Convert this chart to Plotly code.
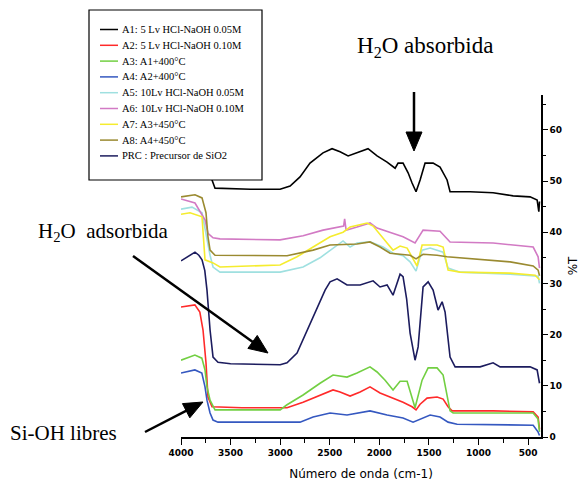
import math
import plotly.graph_objects as go

# ---------------- data ----------------
series_names = [
    "A1: 5 Lv HCl-NaOH 0.05M",
    "A2: 5 Lv HCl-NaOH 0.10M",
    "A3: A1+400°C",
    "A4: A2+400°C",
    "A5: 10Lv HCl-NaOH 0.05M",
    "A6: 10Lv HCl-NaOH 0.10M",
    "A7: A3+450°C",
    "A8: A4+450°C",
    "PRC : Precursor de SiO2",
]
series_colors = ["#000000", "#ff2a2a", "#72cf42", "#3558c0", "#9fe0e0",
                 "#d27ac4", "#f5ec2e", "#9a8a30", "#1c1c5e"]

wn_A1 = [4000, 3850, 3760, 3720, 3687, 3657, 3300, 3001, 2900, 2800, 2699, 2568, 2477, 2396, 2315, 2225,
         2114, 2023, 1922, 1841, 1811, 1761, 1710, 1670, 1630, 1589, 1539, 1458, 1388, 1317, 1287, 1085,
         853, 651, 480, 409, 392, 385]
t_A1 = [58.0, 58.5, 57.0, 54.0, 50.2, 48.6, 48.4, 48.4, 49.0, 50.8, 53.5, 55.5, 56.3, 55.7, 54.9, 55.5,
        56.3, 54.9, 53.7, 52.5, 53.5, 53.5, 51.6, 49.6, 47.9, 50.2, 53.5, 53.5, 52.7, 50.2, 47.9, 47.9,
        47.7, 47.1, 46.9, 46.3, 44.0, 46.0]

wn_A2 = [4000, 3860, 3810, 3778, 3748, 3728, 3687, 3385, 3102, 2931, 2769, 2598, 2467, 2396, 2295, 2194,
         2094, 1993, 1892, 1761, 1670, 1630, 1589, 1519, 1418, 1357, 1307, 1266, 853, 449, 399, 385]
t_A2 = [25.4, 25.8, 24.4, 20.9, 14.5, 7.8, 5.9, 5.7, 5.7, 5.7, 6.8, 8.2, 9.2, 8.8, 8.0, 8.8,
        9.8, 8.6, 7.8, 6.8, 5.9, 5.3, 6.4, 7.6, 7.8, 7.4, 5.9, 5.1, 5.1, 4.9, 3.9, 1.5]

wn_A3 = [4000, 3860, 3790, 3758, 3738, 3707, 3657, 3385, 3000, 2931, 2769, 2598, 2467, 2326, 2225, 2094,
         2023, 1942, 1862, 1791, 1720, 1640, 1569, 1508, 1418, 1357, 1287, 1256, 449, 400, 385]
t_A3 = [15.0, 16.0, 15.4, 13.1, 9.8, 7.2, 5.3, 5.3, 5.3, 6.3, 8.2, 10.5, 12.1, 11.7, 12.5, 13.7,
        12.7, 11.1, 9.2, 10.9, 10.9, 5.7, 11.1, 13.5, 13.5, 12.1, 5.1, 4.7, 4.7, 3.5, 1.0]

wn_A4 = [4000, 3860, 3790, 3758, 3738, 3707, 3677, 3627, 3385, 2800, 2668, 2497, 2326, 2094, 1922, 1761,
         1660, 1488, 1388, 1307, 1216, 449, 400, 385]
t_A4 = [12.5, 13.1, 12.5, 9.8, 7.2, 4.7, 3.3, 2.9, 2.9, 2.9, 3.9, 4.7, 4.3, 5.1, 4.3, 3.7,
        2.9, 4.3, 3.9, 2.9, 2.5, 2.3, 1.0, 0.3]

wn_A5 = [4000, 3889, 3788, 3738, 3707, 3677, 3607, 3001, 2769, 2598, 2426, 2366, 2295, 2225, 2094, 1963,
         1862, 1761, 1690, 1630, 1569, 1488, 1357, 1307, 1186, 681, 399, 385]
t_A5 = [44.5, 44.9, 43.8, 38.5, 35.5, 33.2, 32.2, 32.2, 33.2, 35.0, 37.5, 38.3, 37.1, 37.9, 38.1, 37.1,
        35.9, 35.4, 34.2, 32.4, 36.5, 36.9, 36.1, 33.0, 32.2, 31.8, 31.4, 30.0]

wn_A6 = [4000, 3859, 3758, 3728, 3677, 3607, 3001, 2769, 2568, 2426, 2360, 2350, 2335, 2225, 2094, 2023,
         1892, 1761, 1640, 1559, 1388, 1287, 853, 449, 399, 385]
t_A6 = [46.5, 45.7, 42.4, 39.8, 38.9, 38.7, 38.5, 39.3, 40.4, 41.0, 41.2, 42.6, 40.4, 41.0, 41.8, 40.8,
        40.0, 39.1, 37.9, 40.4, 40.2, 38.1, 37.9, 37.1, 35.2, 33.0]

wn_A7 = [4000, 3909, 3788, 3758, 3677, 3607, 3001, 2830, 2668, 2497, 2366, 2295, 2124, 2063, 1922, 1862,
         1791, 1720, 1620, 1569, 1418, 1357, 1307, 1186, 681, 429, 385]
t_A7 = [43.5, 43.8, 43.0, 34.6, 34.0, 33.2, 33.6, 35.2, 37.1, 39.1, 40.0, 41.0, 41.8, 41.2, 37.9, 36.5,
        37.3, 36.9, 33.4, 37.5, 37.5, 37.1, 32.6, 32.2, 32.0, 31.6, 30.7]

wn_A8 = [4000, 3859, 3788, 3748, 3728, 3707, 3657, 2931, 2668, 2497, 2225, 2094, 1993, 1892, 1690, 1630,
         1559, 1418, 1317, 1186, 681, 449, 399, 385]
t_A8 = [46.9, 47.3, 46.7, 43.8, 39.1, 36.5, 35.5, 35.4, 36.5, 37.5, 37.7, 38.1, 37.1, 35.9, 35.5, 34.8,
        35.7, 35.5, 35.2, 35.0, 34.2, 33.4, 32.6, 31.5]

wn_PRC = [4000, 3950, 3900, 3859, 3820, 3788, 3760, 3738, 3707, 3677, 3627, 3500, 3000, 2931, 2830, 2729,
          2628, 2547, 2497, 2426, 2326, 2194, 2063, 1993, 1922, 1862, 1791, 1761, 1725, 1690, 1640, 1609,
          1559, 1508, 1458, 1408, 1367, 1337, 1287, 1236, 984, 853, 782, 480, 409, 385]
t_PRC = [34.4, 35.0, 35.5, 36.1, 35.5, 34.6, 32.5, 28.7, 20.9, 15.6, 14.6, 14.3, 14.1, 14.5, 16.4, 20.9,
         25.4, 28.7, 30.3, 30.9, 29.7, 29.7, 30.5, 29.3, 29.7, 27.7, 31.8, 31.3, 27.0, 20.3, 15.0, 17.6,
         29.3, 30.3, 28.7, 24.8, 26.4, 24.4, 15.6, 13.7, 13.7, 14.5, 13.7, 13.7, 13.1, 10.5]

x_ticks = [4000, 3500, 3000, 2500, 2000, 1500, 1000, 500]
y_ticks = [0, 10, 20, 30, 40, 50, 60]

all_wn = [wn_A1, wn_A2, wn_A3, wn_A4, wn_A5, wn_A6, wn_A7, wn_A8, wn_PRC]
all_t = [t_A1, t_A2, t_A3, t_A4, t_A5, t_A6, t_A7, t_A8, t_PRC]

# ---------------- figure ----------------
W, H = 582, 489
L, R, T, B = 181, 41, 95, 52
PW, PH = W - L - R, H - T - B


def px(xp):
    return (xp - L) / PW


def py(yp):
    return (H - B - yp) / PH


fig = go.Figure()
for name, col, xs, ys in zip(series_names, series_colors, all_wn, all_t):
    fig.add_trace(go.Scatter(x=xs, y=ys, mode="lines", name=name, showlegend=False,
                             line=dict(color=col, width=1.6)))

tickfont = dict(family="DejaVu Sans", size=9, color="black", weight="bold")

fig.update_layout(
    width=W, height=H,
    autosize=False,
    margin=dict(l=L, r=R, t=T, b=B, pad=0),
    paper_bgcolor="white", plot_bgcolor="white",
    showlegend=False,
    xaxis=dict(range=[4000, 370], tickvals=x_ticks, ticktext=[str(v) for v in x_ticks],
               automargin=False,
               showgrid=False, zeroline=False, showline=True, linecolor="black", linewidth=1.5,
               ticks="outside", ticklen=6, tickwidth=1.2, tickcolor="black", tickfont=tickfont,
               minor=dict(dtick=250, tick0=0, ticks="outside", ticklen=4, tickcolor="black", tickwidth=1),
               title=dict(text="Número de onda (cm-1)",
                          font=dict(family="DejaVu Sans", size=12, color="black"), standoff=13)),
    yaxis=dict(range=[0, PH / 5.12], side="right", tickvals=y_ticks, ticktext=[str(v) for v in y_ticks],
               automargin=False,
               showgrid=False, zeroline=False, showline=True, linecolor="black", linewidth=1.5,
               ticks="outside", ticklen=5, tickwidth=1.2, tickcolor="black", tickfont=tickfont,
               minor=dict(dtick=5, tick0=0, ticks="outside", ticklen=3, tickcolor="black", tickwidth=1),
               title=dict(text="%T", font=dict(family="DejaVu Sans", size=12, color="black"), standoff=8)),
)

# ---------------- legend box (drawn over the curves) ----------------
shapes = [dict(type="rect", xref="paper", yref="paper", layer="above",
               x0=px(89), x1=px(262), y0=py(180), y1=py(10),
               fillcolor="white", line=dict(color="black", width=1.2))]
annotations = []
row0, step = 29.5, 15.8
for i, (name, col) in enumerate(zip(series_names, series_colors)):
    yy = row0 + i * step
    shapes.append(dict(type="line", xref="paper", yref="paper", layer="above",
                       x0=px(100), x1=px(118), y0=py(yy), y1=py(yy),
                       line=dict(color=col, width=1.5)))
    annotations.append(dict(xref="paper", yref="paper", x=px(120), y=py(yy), text=name,
                            showarrow=False, xanchor="left", yanchor="middle",
                            font=dict(family="Liberation Serif", size=10.5, color="black")))


# ---------------- arrows (decoration, drawn as shapes in pixel space) ----------------
def arrow(tail, tip, head_len=19, head_half=8, width=2.5):
    (x0, y0), (x1, y1) = tail, tip
    d = math.hypot(x1 - x0, y1 - y0)
    ux, uy = (x1 - x0) / d, (y1 - y0) / d
    bx, by = x1 - ux * head_len, y1 - uy * head_len
    nx, ny = -uy, ux
    p1 = (bx + nx * head_half, by + ny * head_half)
    p2 = (bx - nx * head_half, by - ny * head_half)
    path = "M {} {} L {} {} L {} {} Z".format(px(x1), py(y1), px(p1[0]), py(p1[1]), px(p2[0]), py(p2[1]))
    return [
        dict(type="line", xref="paper", yref="paper", layer="above",
             x0=px(x0), y0=py(y0), x1=px(bx + ux * 2), y1=py(by + uy * 2),
             line=dict(color="black", width=width)),
        dict(type="path", xref="paper", yref="paper", layer="above", path=path,
             fillcolor="black", line=dict(color="black", width=1)),
    ]


shapes += arrow((414, 92), (414, 151))
shapes += arrow((133, 256), (268, 353))
shapes += arrow((145, 432), (203, 402))

# ---------------- text annotations ----------------
annotations += [
    dict(xref="paper", yref="paper", x=px(425), y=py(47), text="H<sub>2</sub>O absorbida",
         showarrow=False, xanchor="center", yanchor="middle",
         font=dict(family="Liberation Serif", size=23, color="black")),
    dict(xref="paper", yref="paper", x=px(103), y=py(232), text="H<sub>2</sub>O  adsorbida",
         showarrow=False, xanchor="center", yanchor="middle",
         font=dict(family="Liberation Serif", size=21, color="black")),
    dict(xref="paper", yref="paper", x=px(63), y=py(433), text="Si-OH libres",
         showarrow=False, xanchor="center", yanchor="middle",
         font=dict(family="Liberation Serif", size=21, color="black")),
]

fig.update_layout(shapes=shapes, annotations=annotations)
fig.write_html("out.html", config={"displayModeBar": False},
               post_script="document.body.style.margin='0';")
